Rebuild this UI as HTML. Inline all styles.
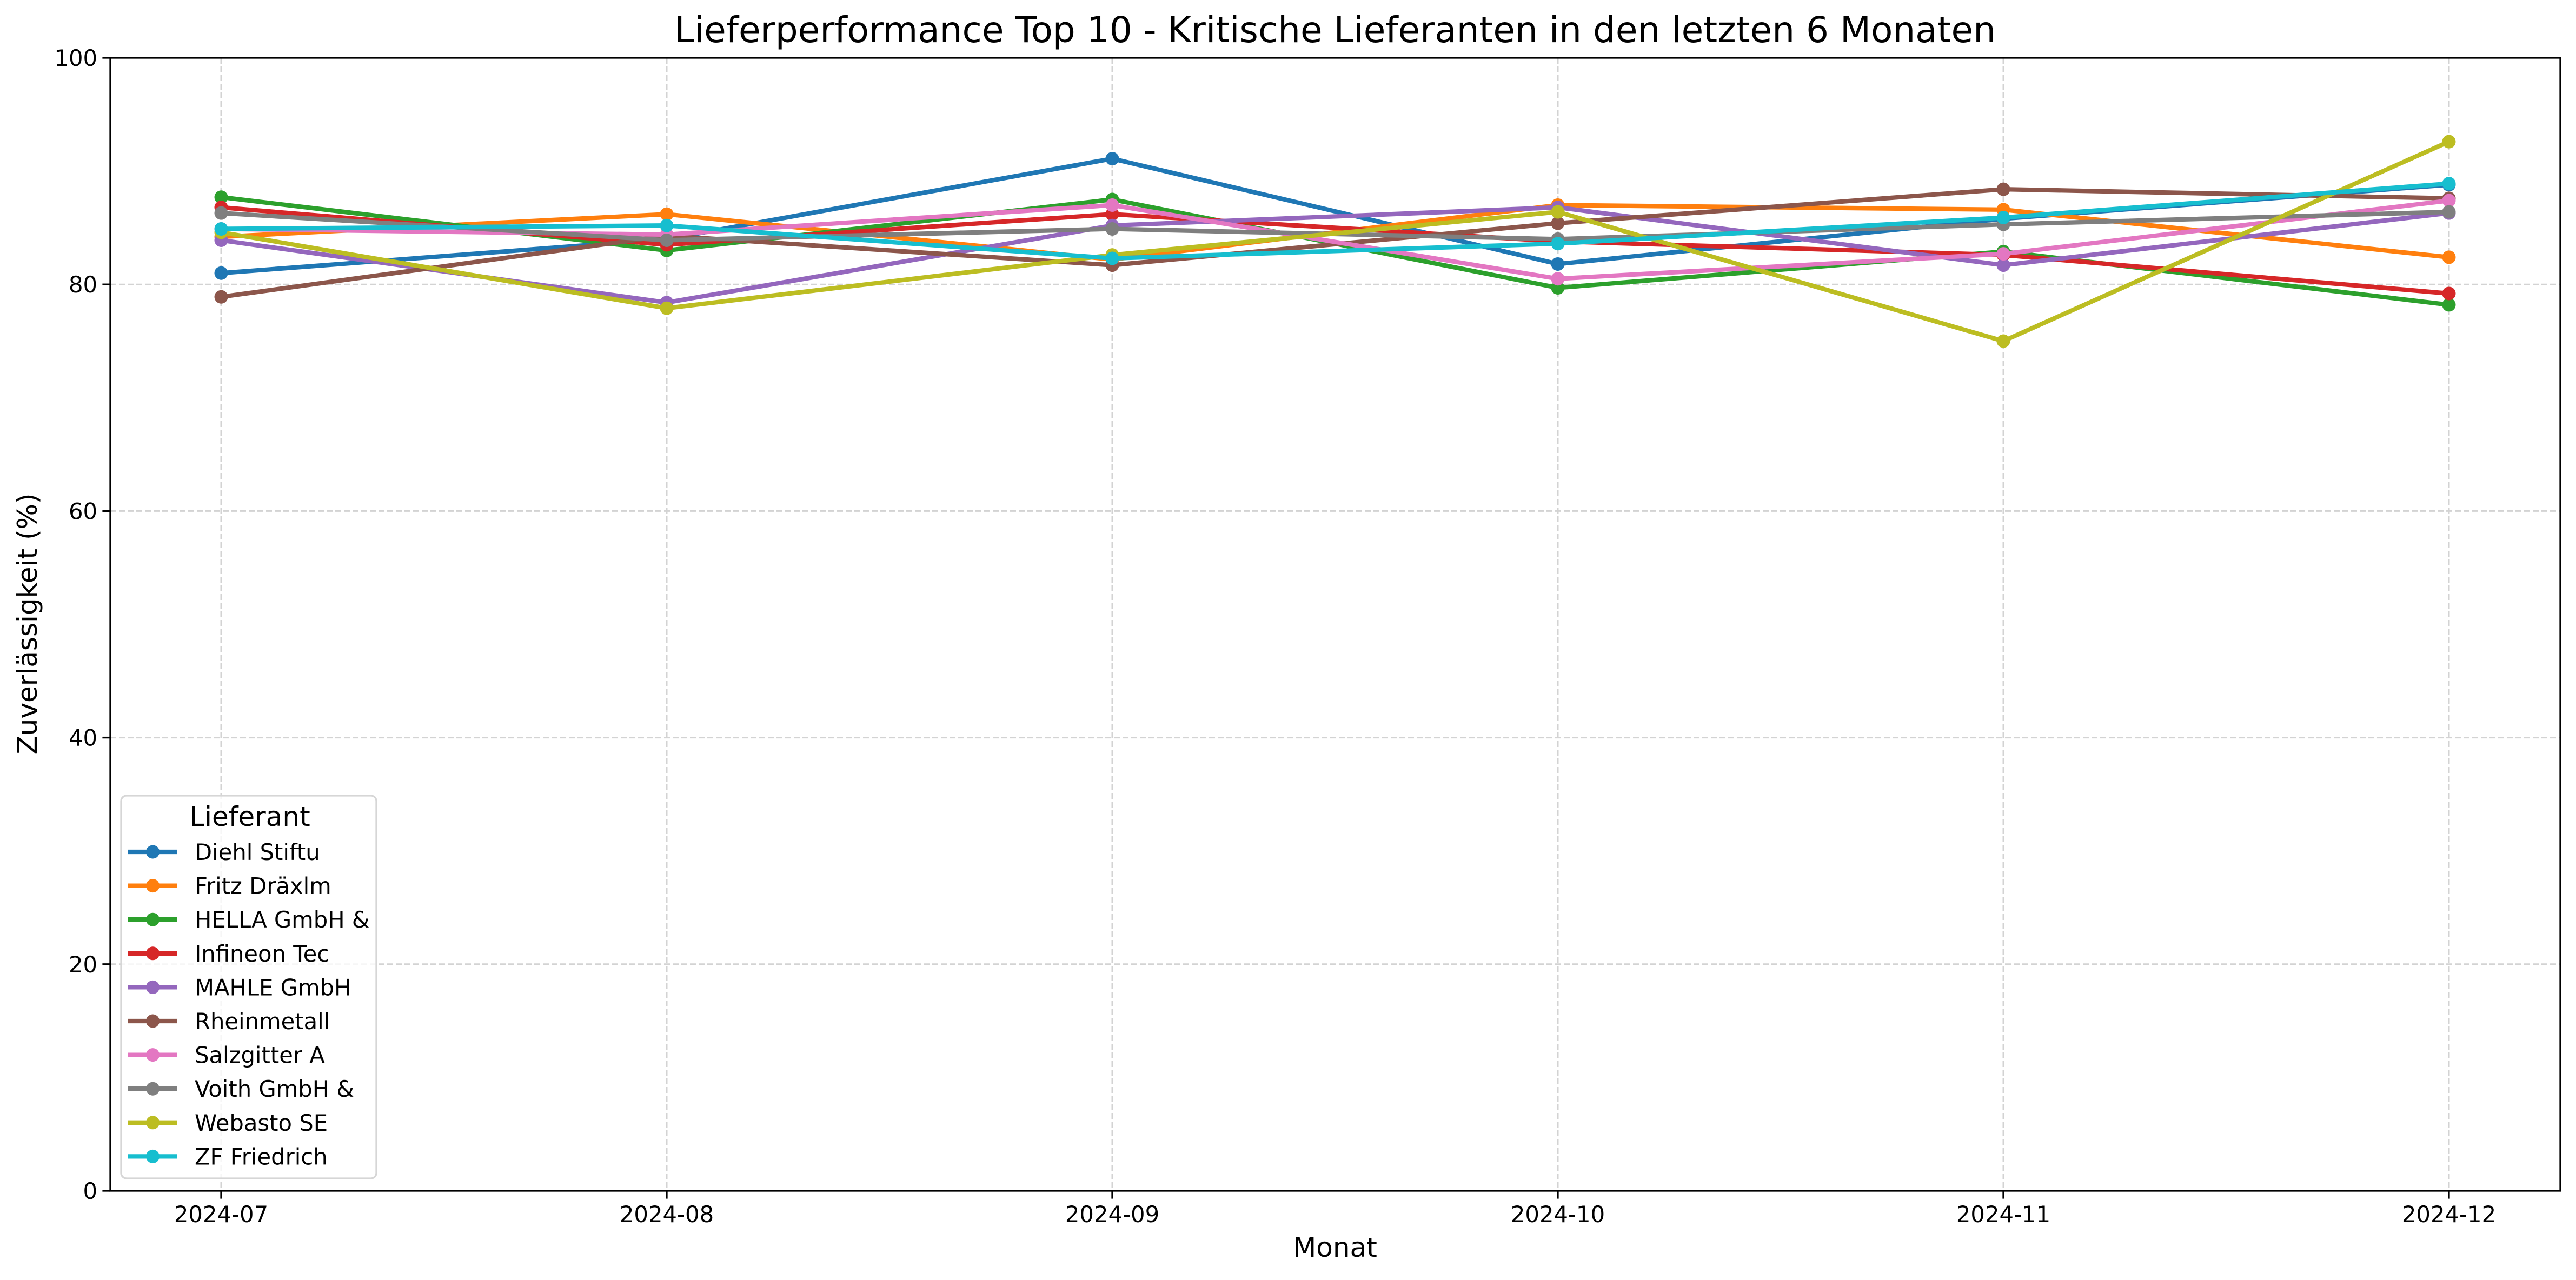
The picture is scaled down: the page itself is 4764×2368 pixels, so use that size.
<!DOCTYPE html>
<html><head><meta charset="utf-8">
<style>
html,body{margin:0;padding:0;background:#fff;}
svg{display:block;font-family:"DejaVu Sans","Liberation Sans",sans-serif;}
</style></head>
<body>
<svg id="chart" width="4764" height="2368" viewBox="0 0 4764 2368" xmlns="http://www.w3.org/2000/svg">
<rect width="4764" height="2368" fill="#fff"/>
<text x="2469" y="78" font-size="66" text-anchor="middle">Lieferperformance Top 10 - Kritische Lieferanten in den letzten 6 Monaten</text>
<g id="grid"></g>
<g id="series"></g>
<g id="axes"></g>
<text x="2469" y="2325" font-size="50" text-anchor="middle">Monat</text>
<text transform="translate(68,1154) rotate(-90)" font-size="50" text-anchor="middle">Zuverlässigkeit (%)</text>
<g id="legend"></g>
</svg>
<script>
const months = ["2024-07","2024-08","2024-09","2024-10","2024-11","2024-12"];
const supplierNames = ["Diehl Stiftu","Fritz Dräxlm","HELLA GmbH &","Infineon Tec","MAHLE GmbH","Rheinmetall","Salzgitter A","Voith GmbH &","Webasto SE","ZF Friedrich"];
const diehl = [81.0, 84.0, 91.1, 81.8, 85.8, 88.8];
const fritz = [84.2, 86.2, 82.2, 87.0, 86.6, 82.4];
const hella = [87.7, 83.0, 87.5, 79.7, 82.9, 78.2];
const infineon = [86.8, 83.5, 86.2, 83.8, 82.6, 79.2];
const mahle = [83.9, 78.4, 85.2, 86.8, 81.7, 86.3];
const rheinmetall = [78.9, 84.3, 81.7, 85.4, 88.4, 87.6];
const salzgitter = [84.9, 84.4, 87.0, 80.5, 82.7, 87.4];
const voith = [86.3, 83.9, 84.9, 84.0, 85.3, 86.4];
const webasto = [84.6, 77.9, 82.6, 86.4, 75.0, 92.6];
const zf = [84.9, 85.2, 82.3, 83.6, 85.9, 88.9];
const yTicks = [0, 20, 40, 60, 80, 100];

const seriesData = [diehl, fritz, hella, infineon, mahle, rheinmetall, salzgitter, voith, webasto, zf];
const colors = ["#1f77b4","#ff7f0e","#2ca02c","#d62728","#9467bd","#8c564b","#e377c2","#7f7f7f","#bcbd22","#17becf"];
const NS = "http://www.w3.org/2000/svg";
const L = 204, R = 4735, T = 107, B = 2203;
const x0 = 409, dx = 824;
function xScale(i){ return x0 + i*dx; }
function yScale(v){ return B - (v - 0) / 100 * (B - T); }
function mk(tag, attrs, parent){ const e = document.createElementNS(NS, tag); for (const k in attrs) e.setAttribute(k, attrs[k]); parent.appendChild(e); return e; }

const grid = document.getElementById('grid');
months.forEach((m,i)=>{
  const g = mk('line',{x1:xScale(i),x2:xScale(i),y1:T,y2:B,stroke:'#d3d3d3','stroke-width':3,'stroke-dasharray':'11 5'},grid);
  
  
});
yTicks.forEach(v=>{
  const g = mk('line',{x1:L,x2:R,y1:yScale(v),y2:yScale(v),stroke:'#d3d3d3','stroke-width':3,'stroke-dasharray':'11 5'},grid);
  
  
});

const sg = document.getElementById('series');
seriesData.forEach((vals, s)=>{
  const grp = mk('g',{},sg);
  
  
  const pts = vals.map((v,i)=>xScale(i)+','+yScale(v)).join(' ');
  const pl = mk('polyline',{points:pts,fill:'none',stroke:colors[s],'stroke-width':8.3,'stroke-linejoin':'round','stroke-linecap':'square'},grp);
  
  
  vals.forEach((v,i)=>{
    const c = mk('circle',{cx:xScale(i),cy:yScale(v),r:12.5,fill:colors[s]},grp);
    
    
  });
});

const ax = document.getElementById('axes');
const frame = mk('rect',{x:L,y:T,width:R-L,height:B-T,fill:'none',stroke:'#000','stroke-width':3.3},ax);


months.forEach((m,i)=>{
  const t = mk('line',{x1:xScale(i),x2:xScale(i),y1:B,y2:B+14.6,stroke:'#000','stroke-width':3.3},ax);
  
  
  const lb = mk('text',{x:xScale(i),y:B+58,'font-size':41.7,'text-anchor':'middle'},ax);
  lb.textContent = m;
  
  
});
yTicks.forEach(v=>{
  const t = mk('line',{x1:L-14.6,x2:L,y1:yScale(v),y2:yScale(v),stroke:'#000','stroke-width':3.3},ax);
  
  
  const lb = mk('text',{x:L-24,y:yScale(v)+15,'font-size':41.7,'text-anchor':'end'},ax);
  lb.textContent = v;
  
  
});

const lg = document.getElementById('legend');
const box = mk('rect',{x:224,y:1472,width:472,height:708,rx:10,fill:'#fff','fill-opacity':0.8,stroke:'#d6d6d6','stroke-width':3.3},lg);


const lt = mk('text',{x:462,y:1528,'font-size':50,'text-anchor':'middle'},lg);
lt.textContent = 'Lieferant';


supplierNames.forEach((n,s)=>{
  const y = 1576 + s*62.6;
  const eg = mk('g',{},lg);
  
  
  mk('line',{x1:237,x2:328,y1:y,y2:y,stroke:colors[s],'stroke-width':8.3},eg);
  mk('circle',{cx:282.5,cy:y,r:12.5,fill:colors[s]},eg);
  const t = mk('text',{x:360,y:y+15,'font-size':41.7},eg);
  t.textContent = n;
});
</script>
</body></html>
